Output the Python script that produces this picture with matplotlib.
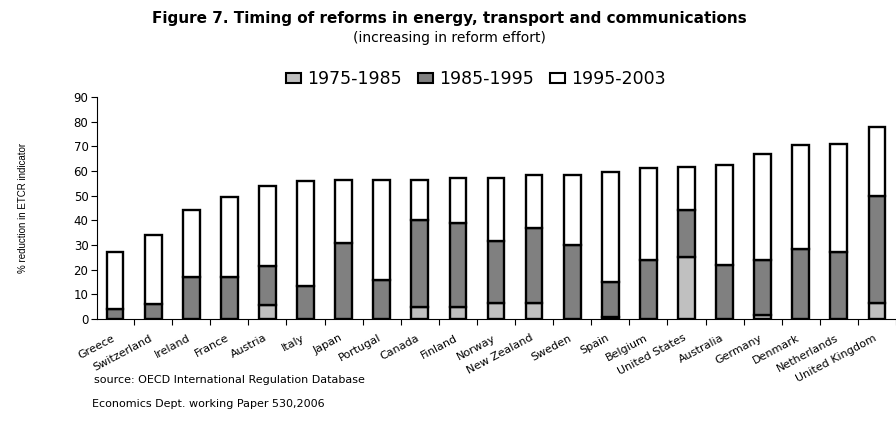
import matplotlib
matplotlib.use("Agg")
import matplotlib.pyplot as plt
import numpy as np
from matplotlib.patches import Patch

countries = ["Greece", "Switzerland", "Ireland", "France", "Austria", "Italy",
             "Japan", "Portugal", "Canada", "Finland", "Norway", "New Zealand",
             "Sweden", "Spain", "Belgium", "United States", "Australia",
             "Germany", "Denmark", "Netherlands", "United Kingdom"]

# segment heights (percentage points of ETCR reduction)
p1975_1985 = [0, 0, 0, 0, 5.5, 0, 0, 0, 5, 5, 6.5, 6.5, 0, 1, 0, 25, 0, 1.5, 0, 0, 6.5]
p1985_1995 = [4, 6, 17, 17, 16, 13.5, 31, 16, 35, 34, 25, 30.5, 30, 14, 24, 19, 22, 22.5, 28.5, 27, 43.5]
p1995_2003 = [23, 28, 27, 32.5, 32.5, 42.5, 25.5, 40.5, 16.5, 18, 25.5, 21.5, 28.5, 44.5, 37, 17.5, 40.5, 43, 42, 44, 28]
periods = ["1975-1985", "1985-1995", "1995-2003"]
colors = ["#c0c0c0", "#808080", "white"]

yticks = list(range(0, 91, 10))

plt.rcParams["font.family"] = ["DejaVu Sans"]

fig = plt.figure(figsize=(8.96, 4.32), dpi=100)
ax = fig.add_axes([0.108, 0.2616, 0.892, 0.514])

x = np.arange(len(countries))
bottom = np.zeros(len(countries))
for vals, col in zip([p1975_1985, p1985_1995, p1995_2003], colors):
    ax.bar(x, vals, bottom=bottom, width=0.44, color=col, edgecolor="black", linewidth=1.7)
    bottom = bottom + np.array(vals)

ax.set_xlim(-0.48, 20.27)
ax.set_ylim(0, 90)
ax.set_yticks(yticks)
ax.tick_params(axis="y", labelsize=8.5, length=4, width=0.8, pad=2)
for s in ["top", "right"]:
    ax.spines[s].set_visible(False)
ax.spines["left"].set_linewidth(0.8)
ax.spines["bottom"].set_linewidth(0.8)

# category boundary ticks
ax.set_xticks(x + 0.5, minor=True)
ax.tick_params(axis="x", which="minor", length=4, width=0.8)
ax.set_xticks(x - 0.1)
ax.set_xticklabels(countries, rotation=28, ha="right", va="top",
                   rotation_mode="anchor", fontsize=8)
ax.tick_params(axis="x", which="major", length=0, pad=10)

ax.set_ylabel("% reduction in ETCR indicator", fontsize=7, labelpad=33,
              family=["Liberation Sans", "DejaVu Sans"])

fig.text(0.502, 0.957, "Figure 7. Timing of reforms in energy, transport and communications",
         ha="center", va="center", fontsize=11, fontweight="bold")
fig.text(0.502, 0.913, "(increasing in reform effort)", ha="center", va="center", fontsize=10)

handles = [Patch(facecolor=c, edgecolor="black", linewidth=1.5) for c in colors]
fig.legend(handles, periods, loc="center",
           bbox_to_anchor=(0.531, 0.817), ncol=3, frameon=False, fontsize=12.5,
           handlelength=0.9, handleheight=0.55, handletextpad=0.35, columnspacing=0.9,
           borderpad=0)

fig.text(0.105, 0.12, "source: OECD International Regulation Database", fontsize=8, va="center")
fig.text(0.103, 0.065, "Economics Dept. working Paper 530,2006", fontsize=8, va="center")

fig.savefig("out.png", dpi=100)
